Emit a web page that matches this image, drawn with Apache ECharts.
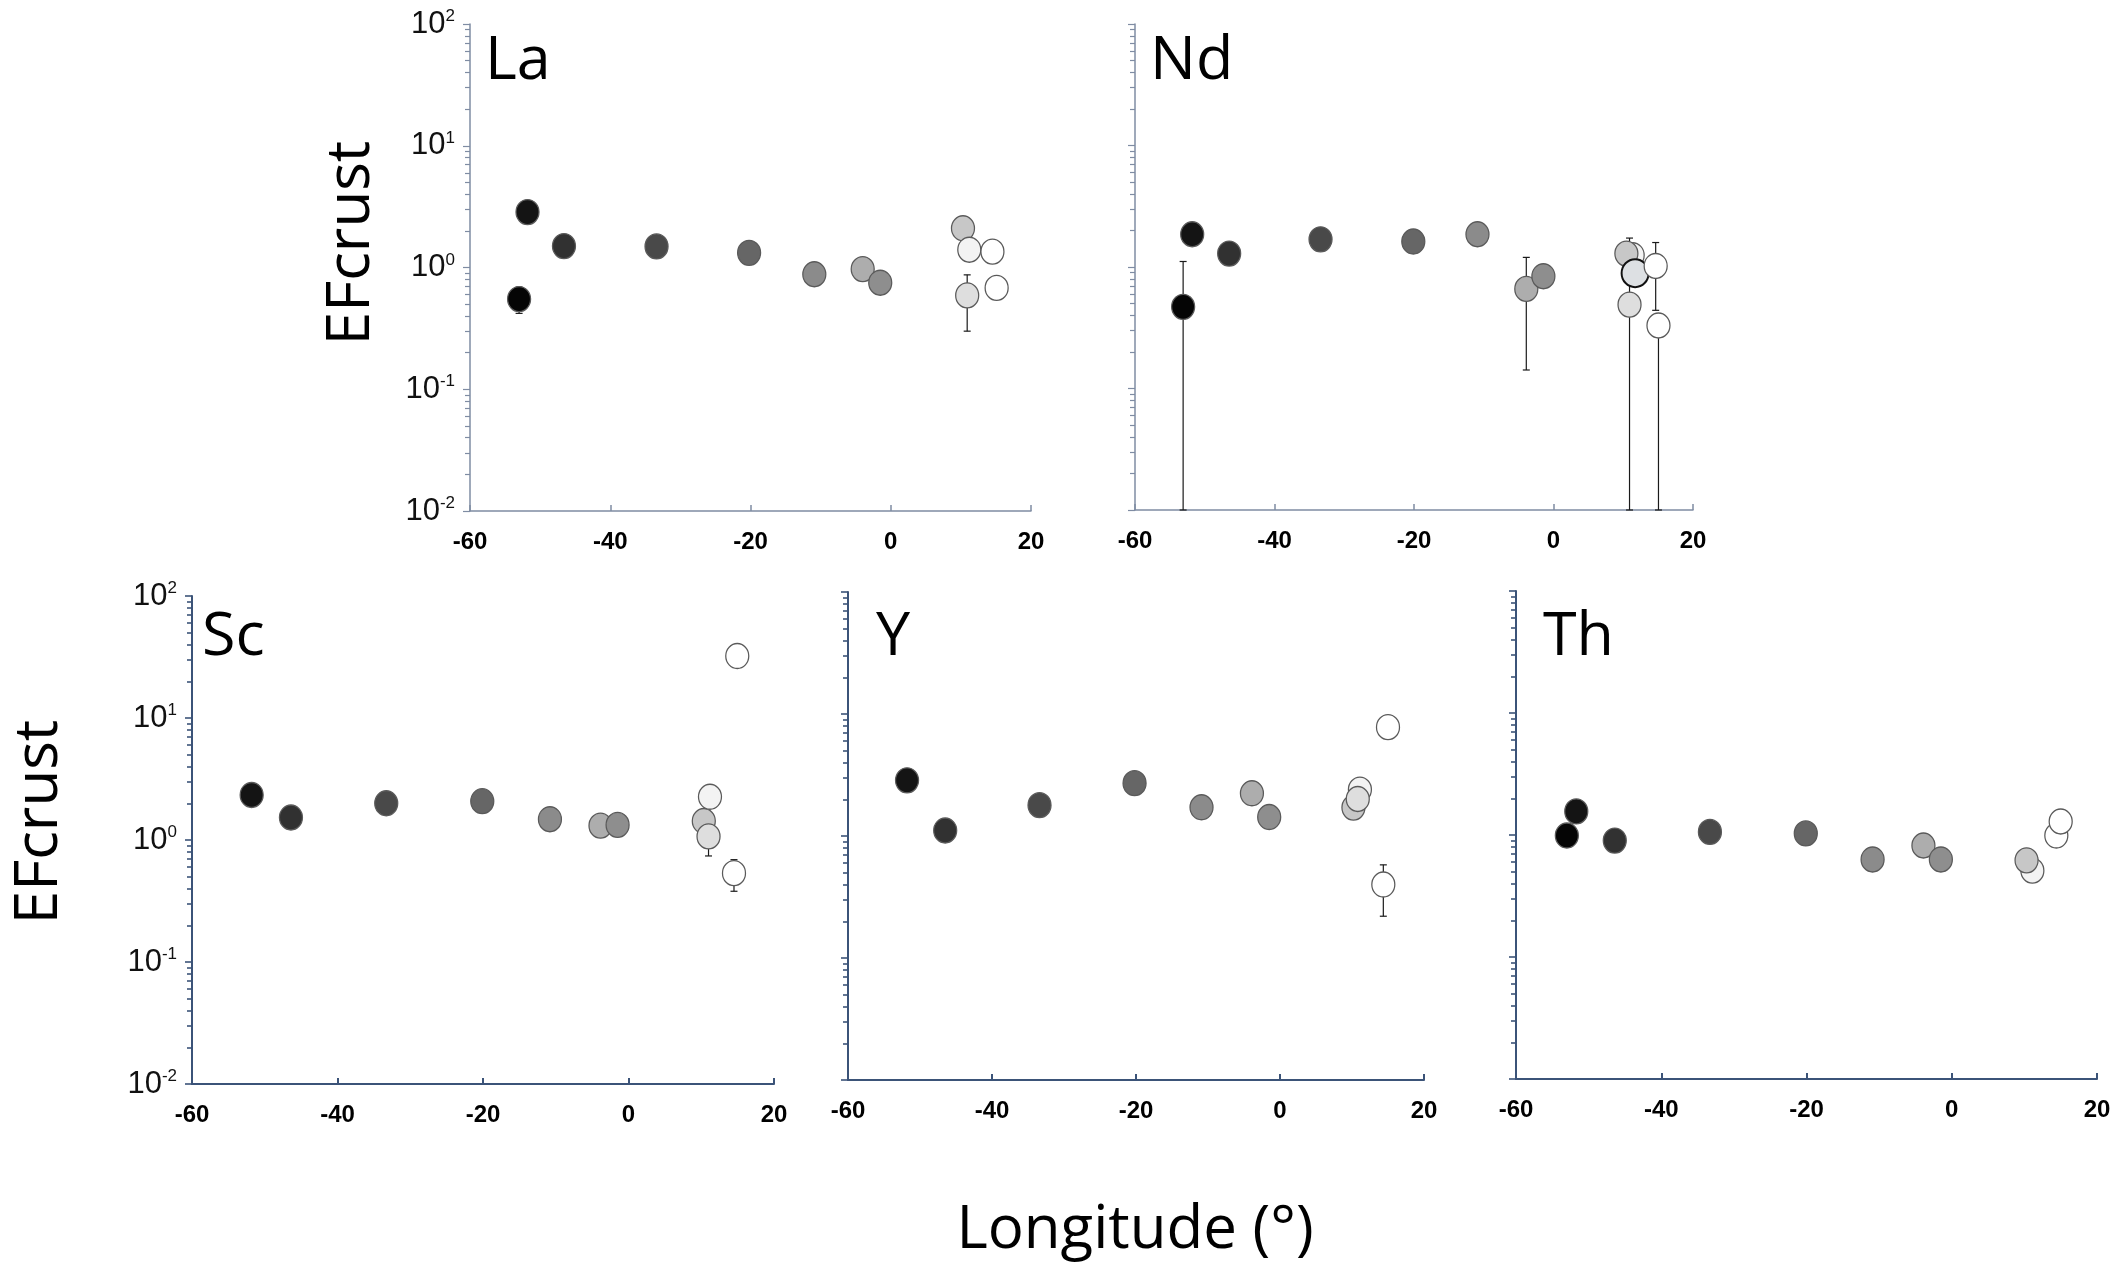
<!DOCTYPE html>
<html>
<head>
<meta charset="utf-8">
<title>EFcrust vs longitude</title>
<script src="https://cdn.jsdelivr.net/npm/echarts@6/dist/echarts.min.js"></script>
<style>
  html, body { margin: 0; padding: 0; background: #ffffff; }
  #chart { width: 2114px; height: 1269px; }
</style>
</head>
<body>
<div id="chart"></div>
<script>
// Enrichment factors relative to crust, by sampling longitude (degrees)
const xTicks = [-60, -40, -20, 0, 20];
const yTicks = [0.01, 0.1, 1, 10, 100];

// station shade index per point (0 = westernmost, darkest)
const laLon  = [-53.0, -51.8, -46.6, -33.4, -20.2, -10.9, -4.0, -1.5, 10.3, 11.2, 10.9, 14.5, 15.1];
const laEF   = [0.55, 2.85, 1.50, 1.49, 1.32, 0.88, 0.97, 0.75, 2.10, 1.40, 0.59, 1.35, 0.68];
const laTone = [0, 1, 2, 3, 4, 5, 6, 7, 8, 9, 10, 11, 12];
const laErr  = [[-53.0, 0.42, 0.69], [10.9, 0.30, 0.87], [15.1, 0.56, 0.78]];

const ndLon  = [-53.1, -51.8, -46.5, -33.4, -20.1, -10.9, -3.9, -1.45, 11.35, 10.45, 10.9, 11.7, 14.65, 15.05];
const ndEF   = [0.47, 1.86, 1.29, 1.69, 1.62, 1.86, 0.66, 0.84, 1.25, 1.29, 0.49, 0.89, 1.02, 0.33];
const ndTone = [0, 1, 2, 3, 4, 5, 6, 7, 9, 8, 10, 13, 11, 12];
const ndErr  = [[-53.1, 0.01, 1.11], [-3.9, 0.142, 1.20], [10.9, 0.01, 1.73], [14.65, 0.44, 1.59], [15.05, 0.01, 0.37]];

const scLon  = [-51.8, -46.4, -33.3, -20.1, -10.8, -3.85, -1.5, 10.35, 11.2, 11.0, 14.95, 14.5];
const scEF   = [2.34, 1.53, 2.00, 2.08, 1.48, 1.31, 1.33, 1.43, 2.26, 1.07, 32.2, 0.535];
const scTone = [1, 2, 3, 4, 5, 6, 7, 8, 9, 10, 12, 11];
const scErr  = [[11.0, 0.74, 1.15], [14.5, 0.38, 0.69]];

const yLon   = [-51.8, -46.5, -33.4, -20.2, -10.9, -3.9, -1.5, 10.2, 11.1, 10.8, 15.0, 14.35];
const yEF    = [2.86, 1.11, 1.79, 2.71, 1.72, 2.24, 1.43, 1.71, 2.40, 2.01, 7.8, 0.40];
const yTone  = [1, 2, 3, 4, 5, 6, 7, 8, 9, 10, 12, 11];
const yErr   = [[-10.9, 1.42, 1.9], [14.35, 0.22, 0.58]];

const thLon  = [-53.0, -51.7, -46.4, -33.3, -20.1, -10.9, -3.9, -1.5, 11.1, 10.3, 14.4, 15.0];
const thEF   = [0.99, 1.56, 0.90, 1.06, 1.03, 0.63, 0.82, 0.63, 0.51, 0.62, 0.99, 1.29];
const thTone = [0, 1, 2, 3, 4, 5, 6, 7, 9, 8, 11, 12];
const thErr  = [[-53.0, 0.80, 1.10]];

// grey ramp from west (black) to east (white)
const tones = ['#050505', '#141414', '#313131', '#494949', '#666666', '#8b8b8b', '#adadad',
               '#8e8e8e', '#c7c7c7', '#f3f3f3', '#dedede', '#ffffff', '#ffffff', '#dde0e3'];

const panels = [
  { name: 'La', lon: laLon, ef: laEF, tone: laTone, err: laErr, labels: true,
    grid: { left: 470, top: 24, width: 561, height: 487 }, axisColor: '#7f8ca3', axisWidth: 1.5, tag: [485, 62] },
  { name: 'Nd', lon: ndLon, ef: ndEF, tone: ndTone, err: ndErr, labels: false,
    grid: { left: 1135, top: 24, width: 558, height: 486 }, axisColor: '#7f8ca3', axisWidth: 1.5, tag: [1150, 62] },
  { name: 'Sc', lon: scLon, ef: scEF, tone: scTone, err: scErr, labels: true,
    grid: { left: 192, top: 596, width: 582, height: 488 }, axisColor: '#3b5378', axisWidth: 2, tag: [202, 638] },
  { name: 'Y', lon: yLon, ef: yEF, tone: yTone, err: yErr, labels: false,
    grid: { left: 848, top: 592, width: 576, height: 488 }, axisColor: '#3b5378', axisWidth: 2, tag: [876, 638] },
  { name: 'Th', lon: thLon, ef: thEF, tone: thTone, err: thErr, labels: false,
    grid: { left: 1516, top: 591, width: 581, height: 488 }, axisColor: '#3b5378', axisWidth: 2, tag: [1543, 638] }
];

const sansLabel = '"Open Sans", "Noto Sans", sans-serif';

const grids = [], xAxes = [], yAxes = [], series = [], graphics = [];

panels.forEach(function (p, i) {
  grids.push(Object.assign({ containLabel: false }, p.grid));

  xAxes.push({
    type: 'value', gridIndex: i,
    min: xTicks[0], max: xTicks[xTicks.length - 1], interval: 20,
    axisLine: { show: true, onZero: false, lineStyle: { color: p.axisColor, width: p.axisWidth } },
    axisTick: { show: true, inside: true, length: 6, lineStyle: { color: p.axisColor, width: p.axisWidth } },
    axisLabel: {
      show: true, margin: 19, color: '#000',
      fontFamily: '"Liberation Sans", Arial, sans-serif', fontWeight: 'bold', fontSize: 24,
      formatter: function (v) { return xTicks.indexOf(v) >= 0 ? String(v) : ''; }
    },
    splitLine: { show: false }
  });

  yAxes.push({
    type: 'log', logBase: 10, gridIndex: i,
    min: yTicks[0], max: yTicks[yTicks.length - 1],
    axisLine: { show: true, onZero: false, lineStyle: { color: p.axisColor, width: p.axisWidth } },
    axisTick: { show: true, inside: false, length: 7, lineStyle: { color: p.axisColor, width: p.axisWidth * 0.8 } },
    minorTick: { show: true, splitNumber: 9, length: 5, lineStyle: { color: p.axisColor, width: p.axisWidth * 0.8 } },
    axisLabel: {
      show: p.labels, margin: 15, color: '#000',
      formatter: function (v) {
        const e = Math.round(Math.log10(v));
        return '{b|10}{s|' + e + '}';
      },
      rich: {
        b: { fontFamily: '"Liberation Sans Narrow", "Liberation Sans", sans-serif', fontSize: 31, color: '#111', lineHeight: 32 },
        s: { fontFamily: '"Liberation Sans Narrow", "Liberation Sans", sans-serif', fontSize: 17, color: '#111', verticalAlign: 'top', lineHeight: 17 }
      }
    },
    splitLine: { show: false },
    minorSplitLine: { show: false }
  });

  // error bars drawn beneath the markers
  series.push({
    type: 'custom', xAxisIndex: i, yAxisIndex: i, z: 1, silent: true,
    data: p.err,
    encode: { x: 0, y: [1, 2] },
    renderItem: function (params, api) {
      const x = api.value(0);
      const lo = api.coord([x, api.value(1)]);
      const hi = api.coord([x, api.value(2)]);
      const cap = 3.5;
      const st = { stroke: '#1a1a1a', lineWidth: 1.2 };
      return {
        type: 'group',
        children: [
          { type: 'line', shape: { x1: lo[0], y1: lo[1], x2: hi[0], y2: hi[1] }, style: st },
          { type: 'line', shape: { x1: hi[0] - cap, y1: hi[1], x2: hi[0] + cap, y2: hi[1] }, style: st },
          { type: 'line', shape: { x1: lo[0] - cap, y1: lo[1], x2: lo[0] + cap, y2: lo[1] }, style: st }
        ]
      };
    }
  });

  series.push({
    type: 'scatter', xAxisIndex: i, yAxisIndex: i, z: 2, silent: true,
    symbol: 'circle',
    data: p.lon.map(function (lon, k) {
      const t = p.tone[k];
      const special = t === 13;
      return {
        value: [lon, p.ef[k]],
        symbolSize: special ? [27, 28] : [23, 25],
        itemStyle: {
          color: tones[t],
          borderColor: special ? '#111111' : '#5a5a5a',
          borderWidth: special ? 2 : 1.3,
          opacity: 1
        }
      };
    })
  });

  graphics.push({
    type: 'text', x: p.tag[0], y: p.tag[1], z: 10,
    style: { text: p.name, fill: '#000', font: '61px ' + sansLabel, textAlign: 'left', textVerticalAlign: 'middle' }
  });
});

graphics.push(
  { type: 'text', x: 352, y: 243, rotation: Math.PI / 2, z: 10,
    style: { text: 'EFcrust', fill: '#000', font: '60px ' + sansLabel, textAlign: 'center', textVerticalAlign: 'middle' } },
  { type: 'text', x: 40, y: 822, rotation: Math.PI / 2, z: 10,
    style: { text: 'EFcrust', fill: '#000', font: '60px ' + sansLabel, textAlign: 'center', textVerticalAlign: 'middle' } },
  { type: 'text', x: 1135, y: 1231, z: 10,
    style: { text: 'Longitude (°)', fill: '#000', font: '60px ' + sansLabel, textAlign: 'center', textVerticalAlign: 'middle' } }
);

const chart = echarts.init(document.getElementById('chart'), null, { renderer: 'canvas' });
chart.setOption({
  backgroundColor: '#ffffff',
  animation: false,
  grid: grids,
  xAxis: xAxes,
  yAxis: yAxes,
  series: series,
  graphic: graphics
});
</script>
</body>
</html>
